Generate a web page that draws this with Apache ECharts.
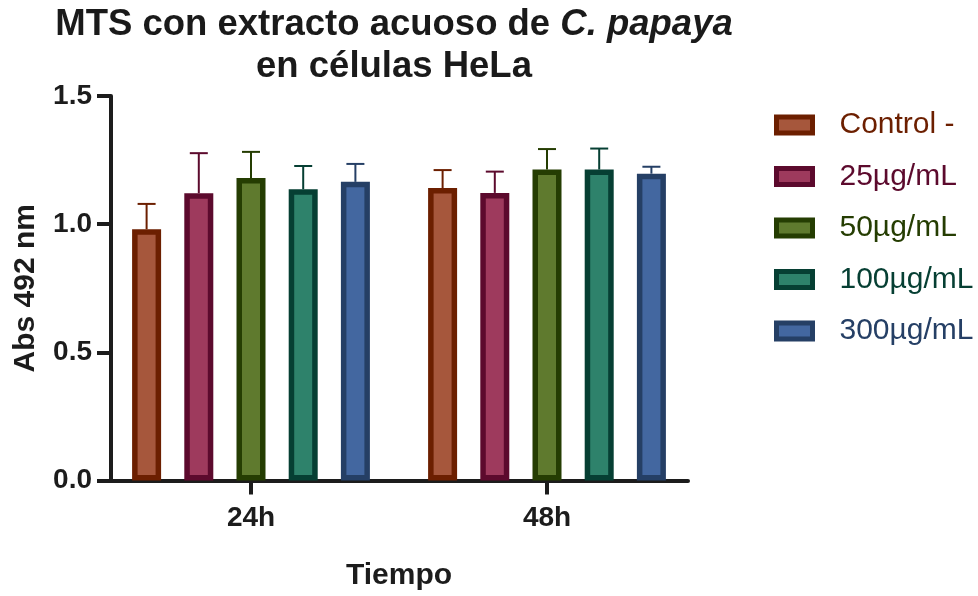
<!DOCTYPE html>
<html>
<head>
<meta charset="utf-8">
<script src="https://cdn.jsdelivr.net/npm/echarts@6/dist/echarts.min.js"></script>
<style>html,body{margin:0;padding:0;background:#fff;}#c{width:978px;height:596px;}</style>
</head>
<body>
<div id="c"></div>
<script>
const categories = ['24h', '48h'];
const seriesNames = ['Control -', '25µg/mL', '50µg/mL', '100µg/mL', '300µg/mL'];
const control = [0.980, 1.141];
const c25 = [1.121, 1.122];
const c50 = [1.180, 1.213];
const c100 = [1.136, 1.213];
const c300 = [1.165, 1.197];
const errControl = [0.099, 0.070];
const err25 = [0.156, 0.083];
const err50 = [0.102, 0.080];
const err100 = [0.091, 0.082];
const err300 = [0.070, 0.027];
const yTicks = [0, 0.5, 1.0, 1.5];

const fills = ['#A6573C', '#9E3A5D', '#5F7A2E', '#2E826B', '#4367A0'];
const borders = ['#6C1F00', '#5C0A2D', '#253D02', '#063F33', '#253F65'];
const values = [control, c25, c50, c100, c300];
const errs = [errControl, err25, err50, err100, err300];

const FONT = "'Liberation Sans', Arial, sans-serif";
const AXC = '#1c1c1c';
const BAR_W = 29;
const BAR_GAP = 0.8;
const N = seriesNames.length;

const series = [];
values.forEach((vals, i) => {
  series.push({
    name: seriesNames[i], type: 'bar', xAxisIndex: 1, yAxisIndex: 1,
    barWidth: BAR_W, barGap: (BAR_GAP * 100) + '%',
    data: vals,
    itemStyle: { color: fills[i], borderColor: borders[i], borderWidth: 5.5 },
    z: 3
  });
});
values.forEach((vals, i) => {
  const spacing = BAR_W * (1 + BAR_GAP);
  const offset = (i - (N - 1) / 2) * spacing;
  series.push({
    name: seriesNames[i], type: 'custom', xAxisIndex: 1, yAxisIndex: 1,
    data: vals.map((v, k) => [k, v, errs[i][k]]),
    z: 2,
    renderItem: function (params, api) {
      const cx = api.coord([api.value(0), 0])[0] + offset;
      const v = api.value(1), e = api.value(2);
      const yb = api.coord([0, v])[1];
      const yt = api.coord([0, v + e])[1];
      const st = { stroke: borders[i], lineWidth: 2 };
      return { type: 'group', children: [
        { type: 'line', shape: { x1: cx, y1: yb, x2: cx, y2: yt }, style: st },
        { type: 'line', shape: { x1: cx - 9, y1: yt, x2: cx + 9, y2: yt }, style: st }
      ]};
    }
  });
});

const chart = echarts.init(document.getElementById('c'), null, { renderer: 'canvas' });
chart.setOption({
  animation: false,
  backgroundColor: '#fff',
  title: {
    left: 394, top: 4, textAlign: 'center', padding: 0,
    text: '{b|MTS con extracto acuoso de }{i|C. papaya}\n{b|en células HeLa}',
    textStyle: {
      rich: {
        b: { fontFamily: FONT, fontWeight: 'bold', fontSize: 36.5, color: '#1a1a1a', lineHeight: 42 },
        i: { fontFamily: FONT, fontWeight: 'bold', fontStyle: 'italic', fontSize: 36.5, color: '#1a1a1a', lineHeight: 42 }
      }
    }
  },
  legend: {
    orient: 'vertical', left: 769, top: 103, itemWidth: 36, itemHeight: 16, itemGap: 17.5,
    icon: 'rect',
    itemStyle: { borderWidth: 5 },
    textStyle: { fontFamily: FONT, fontSize: 30, lineHeight: 34, padding: [0, 0, 0, 22] },
    data: seriesNames.map((n, i) => ({ name: n, textStyle: { color: borders[i] } }))
  },
  grid: [
    { left: 111, right: 290, top: 96, bottom: 115.5 },
    { left: 103, right: 283, top: 96, bottom: 115.5 }
  ],
  xAxis: [
    { type: 'category', gridIndex: 0, data: categories,
      axisLine: { lineStyle: { color: AXC, width: 4 } }, axisTick: { show: false },
      axisLabel: { show: false }, splitLine: { show: false } },
    { type: 'category', gridIndex: 1, data: categories,
      name: 'Tiempo', nameLocation: 'middle', nameGap: 80,
      nameTextStyle: { fontFamily: FONT, fontWeight: 'bold', fontSize: 30, color: AXC },
      axisLine: { show: false },
      axisTick: { show: true, alignWithLabel: true, length: 14, lineStyle: { color: AXC, width: 4 } },
      axisLabel: { fontFamily: FONT, fontWeight: 'bold', fontSize: 28, color: AXC, margin: 24 } }
  ],
  yAxis: [
    { type: 'value', gridIndex: 0, min: 0, max: 1.5, interval: 0.5,
      name: 'Abs 492 nm', nameLocation: 'middle', nameGap: 70, nameRotate: 90,
      nameTextStyle: { fontFamily: FONT, fontWeight: 'bold', fontSize: 30, color: AXC },
      axisLine: { show: true, lineStyle: { color: AXC, width: 4 } },
      axisTick: { show: true, length: 14, lineStyle: { color: AXC, width: 4 } },
      axisLabel: { fontFamily: FONT, fontWeight: 'bold', fontSize: 28, color: AXC, margin: 19,
        formatter: v => yTicks.includes(v) ? v.toFixed(1) : '' },
      splitLine: { show: false } },
    { type: 'value', gridIndex: 1, min: 0, max: 1.5, interval: 0.5, show: false, splitLine: { show: false } }
  ],
  series: series
});
</script>
</body>
</html>
